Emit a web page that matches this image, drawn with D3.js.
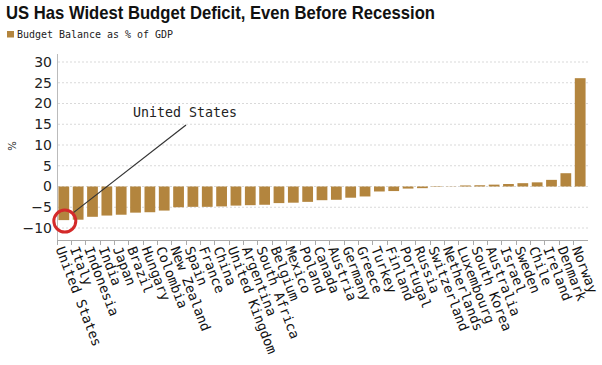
<!DOCTYPE html>
<html>
<head>
<meta charset="utf-8">
<script src="https://cdn.jsdelivr.net/npm/d3@7"></script>
<style>
  body { margin: 0; background: #fff; }
  svg { display: block; }
</style>
</head>
<body>
<div id="vis"></div>
<script>
// countries sorted by budget balance, as in the picture
var countries = ["United States", "Italy", "Indonesia", "India", "Japan", "Brazil", "Hungary",
  "Colombia", "New Zealand", "Spain", "France", "China", "United Kingdom", "Argentina",
  "South Africa", "Belgium", "Mexico", "Poland", "Canada", "Austria", "Germany", "Greece",
  "Turkey", "Finland", "Portugal", "Russia", "Switzerland", "Netherlands", "Luxembourg",
  "South Korea", "Australia", "Israel", "Sweden", "Chile", "Ireland", "Denmark", "Norway"];
var balance = [-8.1, -8.0, -7.3, -7.0, -6.8, -6.3, -6.2,
  -5.8, -5.0, -4.9, -4.9, -4.8, -4.6, -4.5,
  -4.4, -4.0, -3.9, -3.7, -3.3, -3.2, -2.7, -2.4,
  -1.2, -1.1, -0.5, -0.4, -0.1, 0.05, 0.25,
  0.3, 0.45, 0.6, 0.8, 1.0, 1.6, 3.2, 26.1];
var yTicks = [30, 25, 20, 15, 10, 5, 0, -5, -10];

var title = "US Has Widest Budget Deficit, Even Before Recession";
var legendLabel = "Budget Balance as % of GDP";
var calloutLabel = "United States";

var width = 602, height = 365;
var barColor = "#b3853e";

var svg = d3.select("#vis").append("svg")
  .attr("width", width)
  .attr("height", height);

// scales
var x = d3.scaleBand()
  .domain(countries)
  .range([57, 587])
  .paddingInner(0.25)
  .paddingOuter(0.1);

var y = d3.scaleLinear()
  .domain([-10, 30])
  .range([228, 62]);

var plotTop = 54, plotBottom = 240;

// title + legend
svg.append("text")
  .attr("x", 6).attr("y", 19)
  .attr("textLength", 429).attr("lengthAdjust", "spacingAndGlyphs")
  .style("font-family", "'Liberation Sans', Arial, sans-serif")
  .style("font-weight", "bold")
  .style("font-size", "19px")
  .style("fill", "#111")
  .text(title);

svg.append("rect")
  .attr("x", 7).attr("y", 31).attr("width", 7).attr("height", 6.5)
  .style("fill", barColor);
svg.append("text")
  .attr("x", 17).attr("y", 37.5)
  .attr("textLength", 156).attr("lengthAdjust", "spacingAndGlyphs")
  .style("font-family", "'DejaVu Sans Mono', monospace")
  .style("font-size", "10.5px")
  .style("fill", "#222")
  .text(legendLabel);

// gridlines
svg.append("g").selectAll("line")
  .data(yTicks)
  .enter().append("line")
  .attr("x1", 58).attr("x2", 588)
  .attr("y1", function(d) { return y(d); })
  .attr("y2", function(d) { return y(d); })
  .style("stroke", "#d9d9d9")
  .style("stroke-width", 1)
  .style("stroke-dasharray", "2,2");

// y axis
var yAxis = svg.append("g")
  .attr("transform", "translate(57,0)")
  .call(d3.axisLeft(y).tickValues(yTicks).tickSize(0).tickPadding(5));
yAxis.select(".domain").remove();
yAxis.selectAll("text")
  .style("font-family", "'DejaVu Sans', sans-serif")
  .style("font-size", "14px")
  .style("fill", "#222");

svg.append("line")
  .attr("x1", 57.5).attr("x2", 57.5)
  .attr("y1", plotTop).attr("y2", plotBottom)
  .style("stroke", "#bbb");

svg.append("text")
  .attr("transform", "translate(16,146) rotate(-90)")
  .attr("text-anchor", "middle")
  .style("font-family", "'DejaVu Sans', sans-serif")
  .style("font-size", "10px")
  .style("fill", "#222")
  .text("%");

// bars
svg.append("g").selectAll("rect")
  .data(countries)
  .enter().append("rect")
  .attr("x", function(d) { return x(d); })
  .attr("width", x.bandwidth())
  .attr("y", function(d, i) { return y(Math.max(0, balance[i])); })
  .attr("height", function(d, i) { return Math.abs(y(balance[i]) - y(0)); })
  .style("fill", barColor);

// x axis line and ticks between categories
svg.append("line")
  .attr("x1", 57).attr("x2", 588)
  .attr("y1", plotBottom + 0.5).attr("y2", plotBottom + 0.5)
  .style("stroke", "#aaa");

var half = x.step() * x.paddingInner() / 2;
svg.append("g").selectAll("line")
  .data(countries)
  .enter().append("line")
  .attr("x1", function(d) { return Math.round(x(d) - half) + 0.5; })
  .attr("x2", function(d) { return Math.round(x(d) - half) + 0.5; })
  .attr("y1", plotBottom).attr("y2", plotBottom + 5)
  .style("stroke", "#aaa");

// category labels
svg.append("g").selectAll("text")
  .data(countries)
  .enter().append("text")
  .attr("transform", function(d) {
    return "translate(" + (x(d) + x.bandwidth() / 2 - 4) + "," + (plotBottom + 7) + ") rotate(69)";
  })
  .attr("dy", "0.35em")
  .style("font-family", "'DejaVu Sans Mono', monospace")
  .style("font-size", "13.5px")
  .style("fill", "#111")
  .text(function(d) { return d; });

// callout for the US
var usX = x("United States") + x.bandwidth() / 2;
var usY = y(balance[0]);
var r = 11;
var tx = 186, ty = 125;
var ang = Math.atan2(ty - usY, tx - usX);
svg.append("line")
  .attr("x1", usX + r * Math.cos(ang)).attr("y1", usY + r * Math.sin(ang))
  .attr("x2", tx).attr("y2", ty)
  .style("stroke", "#333")
  .style("stroke-width", 1.2);
svg.append("circle")
  .attr("cx", usX + 1).attr("cy", usY + 1).attr("r", r)
  .style("fill", "none")
  .style("stroke", "#d42a2a")
  .style("stroke-width", 3);
svg.append("text")
  .attr("x", 133).attr("y", 117)
  .attr("textLength", 104).attr("lengthAdjust", "spacingAndGlyphs")
  .style("font-family", "'DejaVu Sans Mono', monospace")
  .style("font-size", "13.5px")
  .style("fill", "#222")
  .text(calloutLabel);
</script>
</body>
</html>
